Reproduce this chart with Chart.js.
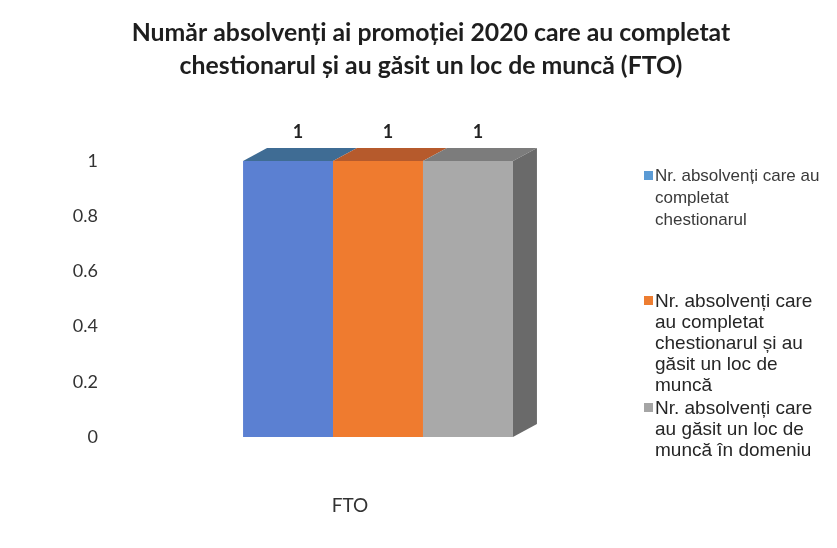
<!DOCTYPE html>
<html>
<head>
<meta charset="utf-8">
<script src="https://cdn.jsdelivr.net/npm/chart.js@4.4.1/dist/chart.umd.min.js"></script>
<style>
  html, body { margin: 0; padding: 0; background: #ffffff; }
  #wrap { position: relative; width: 837px; height: 548px; overflow: hidden; }
  canvas { position: absolute; left: 0; top: 0; }
  #legend { position: absolute; left: 644px; top: 0; width: 193px; font-family: "Liberation Sans", Arial, sans-serif; font-size: 19px; line-height: 21px; color: #262626; }
  .item { position: absolute; left: 0; width: 193px; white-space: nowrap; }
  .box { position: absolute; left: 0; top: 6px; width: 9px; height: 9px; }
  .txt { margin-left: 11px; }
</style>
</head>
<body>
<div id="wrap">
  <canvas id="c" width="837" height="548"></canvas>
  <div id="legend"></div>
</div>
<script>
const titleLines = ["Număr absolvenți ai promoției 2020 care au completat", "chestionarul și au găsit un loc de muncă (FTO)"];
const categories = ["FTO"];
const seriesNames = [
  "Nr. absolvenți care au completat chestionarul",
  "Nr. absolvenți care au completat chestionarul și au găsit un loc de muncă",
  "Nr. absolvenți care au găsit un loc de muncă în domeniu"
];
const legendLines = [
  ["Nr. absolvenți care au", "completat", "chestionarul"],
  ["Nr. absolvenți care", "au completat", "chestionarul și au", "găsit un loc de", "muncă"],
  ["Nr. absolvenți care", "au găsit un loc de", "muncă în domeniu"]
];
const seriesValues1 = [1];
const seriesValues2 = [1];
const seriesValues3 = [1];
const yTicks = [0, 0.2, 0.4, 0.6, 0.8, 1];

const frontColors = ["#5b80d2", "#ef7b2f", "#a9a9a9"];
const topColors = ["#3f6c94", "#b65a2c", "#7c7c7c"];
const sideColor = "#6a6a6a";
const legendColors = ["#5b9bd5", "#ed7d31", "#a5a5a5"];
const legendTops = [165, 290, 397];

const lg = document.getElementById('legend');
seriesNames.forEach((n, i) => {
  const d = document.createElement('div');
  d.className = 'item';
  d.title = n;
  d.style.top = legendTops[i] + 'px';
  if (i === 0) { d.style.fontSize = '17px'; d.style.color = '#3a3a3a'; d.style.lineHeight = '22px'; }
  d.innerHTML = '<div class="box" style="background:' + legendColors[i] + '"></div><div class="txt">' + legendLines[i].join('<br>') + '</div>';
  lg.appendChild(d);
});

const DX = 24, DY = -13;

const threeD = {
  id: 'threeD',
  afterDatasetsDraw(chart) {
    const ctx = chart.ctx;
    const metas = chart.data.datasets.map((d, i) => chart.getDatasetMeta(i));
    ctx.save();
    metas.forEach((meta, i) => {
      meta.data.forEach(bar => {
        const l = bar.x - bar.width / 2, r = bar.x + bar.width / 2;
        const t = bar.y, b = bar.base;
        ctx.fillStyle = topColors[i];
        ctx.beginPath();
        ctx.moveTo(l, t);
        ctx.lineTo(l + DX, t + DY);
        ctx.lineTo(r + DX, t + DY);
        ctx.lineTo(r, t);
        ctx.closePath();
        ctx.fill();
        if (i === metas.length - 1) {
          ctx.fillStyle = sideColor;
          ctx.beginPath();
          ctx.moveTo(r, t);
          ctx.lineTo(r + DX, t + DY);
          ctx.lineTo(r + DX, b + DY);
          ctx.lineTo(r, b);
          ctx.closePath();
          ctx.fill();
        }
        const v = chart.data.datasets[i].data[0];
        ctx.fillStyle = '#222';
        ctx.font = 'bold 18px Lato, "Open Sans", sans-serif';
        ctx.textAlign = 'center';
        ctx.textBaseline = 'middle';
        ctx.fillText(String(v), bar.x + 10, t - 29);
      });
    });
    ctx.fillStyle = '#1e1e1e';
    ctx.font = 'bold 24.8px Lato, "Open Sans", sans-serif';
    ctx.textAlign = 'center';
    ctx.textBaseline = 'middle';
    ctx.fillText(titleLines[0], 431, 33);
    ctx.fillText(titleLines[1], 431, 66);
    ctx.restore();
  }
};

new Chart(document.getElementById('c'), {
  type: 'bar',
  data: {
    labels: categories,
    datasets: [
      { label: seriesNames[0], data: seriesValues1, backgroundColor: frontColors[0] },
      { label: seriesNames[1], data: seriesValues2, backgroundColor: frontColors[1] },
      { label: seriesNames[2], data: seriesValues3, backgroundColor: frontColors[2] }
    ]
  },
  options: {
    responsive: false,
    animation: false,
    devicePixelRatio: 1,
    layout: { padding: { left: 60, right: 221, top: 161, bottom: 0 } },
    plugins: { legend: { display: false }, title: { display: false }, tooltip: { enabled: false } },
    datasets: { bar: { barPercentage: 1, categoryPercentage: 0.567 } },
    scales: {
      x: {
        grid: { display: false },
        border: { display: false },
        ticks: { color: '#333', font: { family: 'Lato, "Open Sans", sans-serif', size: 19 }, padding: 49, labelOffset: -28 },
        afterFit(s) { s.height = 111; }
      },
      y: {
        min: 0, max: 1,
        afterBuildTicks(s) { s.ticks = yTicks.map(v => ({ value: v })); },
        grid: { display: false },
        border: { display: false },
        ticks: { color: '#333', font: { family: 'Lato, "Open Sans", sans-serif', size: 18 }, padding: 34, callback: v => String(v) },
        afterFit(s) { s.width = 80; }
      }
    }
  },
  plugins: [threeD]
});
</script>
</body>
</html>
